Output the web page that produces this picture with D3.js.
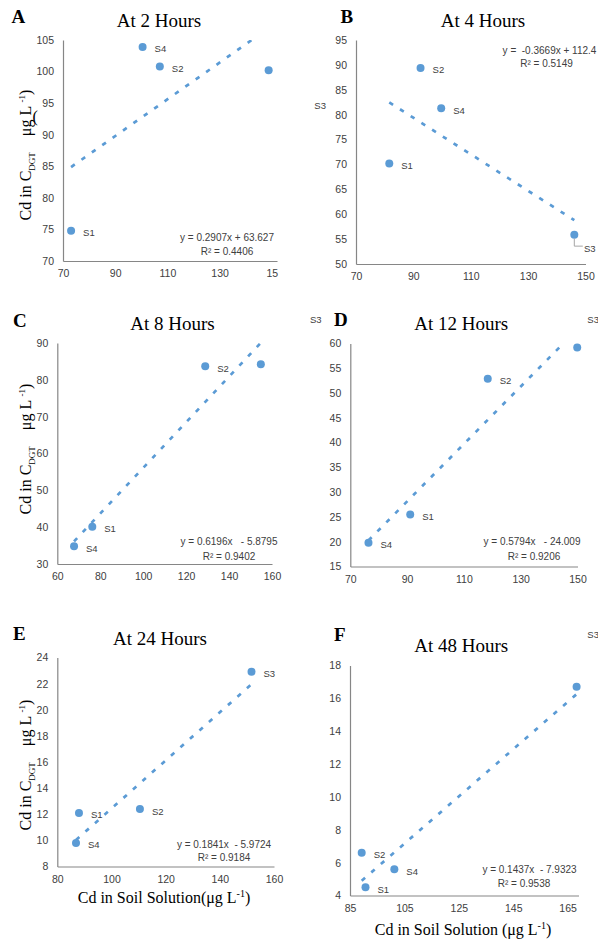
<!DOCTYPE html>
<meta charset="utf-8">
<style>
body { margin: 0; background: #fff; }
svg { display: block; font-family: "Liberation Sans", Arial, sans-serif; }
text { white-space: pre; }
.tick text { font-size: 10.5px; fill: #404040; }
.domain { stroke: #868686; stroke-width: 1.2; }
.ttl { font-family: "Liberation Serif", "Times New Roman", serif; font-size: 19px; fill: #000; }
.letter { font-family: "Liberation Serif", "Times New Roman", serif; font-size: 19px; font-weight: bold; fill: #000; }
.axlab { font-family: "Liberation Serif", "Times New Roman", serif; font-size: 16px; fill: #000; }
.eq { font-size: 10px; fill: #404040; }
.ptlab { font-size: 9.5px; fill: #404040; }
</style>
<svg width="598" height="940"></svg>
<script src="https://d3js.org/d3.v7.min.js"></script>
<script>

var panelLetters = ["A", "B", "C", "D", "E", "F"];
var panelTitles = ["At 2 Hours", "At 4 Hours", "At 8 Hours", "At 12 Hours", "At 24 Hours", "At 48 Hours"];
var sampleIds = ["S1", "S2", "S3", "S4"];

// Cd in soil solution (x), samples S1..S4
var soilCd = [
  [73.1, 107.1, 148.8, 100.5],
  [81.6, 92.5, 146.1, 99.7],
  [76.3, 128.9, 154.8, 67.8],
  [91.1, 118.4, 149.9, 76.4],
  [88.0, 110.5, 151.7, 86.9],
  [90.7, 89.3, 168.3, 101.3]
];
// Cd in C_DGT (y), samples S1..S4
var dgtCd = [
  [74.8, 100.8, 100.2, 103.9],
  [70.2, 89.4, 55.9, 81.3],
  [40.1, 83.7, 84.2, 34.8],
  [25.5, 52.9, 59.2, 19.8],
  [12.1, 12.4, 22.9, 9.8],
  [4.5, 6.6, 16.7, 5.6]
];

var slopes = [0.2907, -0.3669, 0.6196, 0.5794, 0.1841, 0.1437];
var intercepts = [63.627, 112.4, -5.8795, -24.009, -5.9724, -7.9323];
var eqLabels = ["y = 0.2907x + 63.627", "y =  -0.3669x + 112.4", "y = 0.6196x   - 5.8795",
                "y = 0.5794x   - 24.009", "y = 0.1841x  - 5.9724", "y = 0.1437x  - 7.9323"];
var r2Labels = ["R² = 0.4406", "R² = 0.5149", "R² = 0.9402", "R² = 0.9206", "R² = 0.9184", "R² = 0.9538"];

var xDomains = [[70, 152], [70, 150], [60, 160], [70, 150], [80, 160], [85, 169]];
var yDomains = [[70, 105], [50, 95], [30, 90], [15, 60], [8, 24], [4, 18]];
var xTicks = [
  [70, 90, 110, 130, 150],
  [70, 90, 110, 130, 150],
  [60, 80, 100, 120, 140, 160],
  [70, 90, 110, 130, 150],
  [80, 100, 120, 140, 160],
  [85, 105, 125, 145, 165]
];
var xTickLabels = [
  ["70", "90", "110", "130", "15"],
  ["70", "90", "110", "130", "150"],
  ["60", "80", "100", "120", "140", "160"],
  ["70", "90", "110", "130", "150"],
  ["80", "100", "120", "140", "160"],
  ["85", "105", "125", "145", "165"]
];
var yTicks = [
  [70, 75, 80, 85, 90, 95, 100, 105],
  [50, 55, 60, 65, 70, 75, 80, 85, 90, 95],
  [30, 40, 50, 60, 70, 80, 90],
  [15, 20, 25, 30, 35, 40, 45, 50, 55, 60],
  [8, 10, 12, 14, 16, 18, 20, 22, 24],
  [4, 6, 8, 10, 12, 14, 16, 18]
];

// layout of each panel (pixels)
var layout = [
  {x0: 63, x1: 277, y0: 261, y1: 40, title: [159, 27], letter: [11.5, 22.5], eq: [227, 240.5], r2: [227, 254.5], ylab: [31, 155]},
  {x0: 356, x1: 585.5, y0: 264, y1: 40, title: [483, 27], letter: [340.5, 22.5], eq: [549.5, 53.5], r2: [546.5, 67]},
  {x0: 57.3, x1: 272, y0: 564, y1: 343, title: [172.5, 330], letter: [13, 326.5], eq: [229, 545], r2: [229, 560], ylab: [31, 449]},
  {x0: 350.3, x1: 577.5, y0: 566.5, y1: 343.5, title: [461.3, 330], letter: [334, 326], eq: [532, 545], r2: [534, 560]},
  {x0: 57.3, x1: 274, y0: 866.5, y1: 657.5, title: [160, 645], letter: [13, 639.5], eq: [224, 847.5], r2: [224, 861], ylab: [31, 765],
   xlab: [164, 903, "Cd in Soil Solution(μg L"]},
  {x0: 350, x1: 578.5, y0: 895.5, y1: 665.5, title: [461.3, 651.5], letter: [334, 640.5], eq: [529.5, 872.5], r2: [524, 886.5],
   xlab: [463, 935, "Cd in Soil Solution (μg L"]}
];

// S3 labels that sit away from their points
var farLabels = {
  "0-2": [314.3, 109],
  "1-2": [584, 251.5],
  "2-2": [310, 323],
  "3-2": [587.3, 323],
  "5-2": [587.3, 638]
};

var blue = "#5B9BD5";
var svg = d3.select("svg");

panelLetters.forEach(function(letter, i) {
  var L = layout[i];
  var x = d3.scaleLinear().domain(xDomains[i]).range([L.x0, L.x1]);
  var y = d3.scaleLinear().domain(yDomains[i]).range([L.y0, L.y1]);
  var g = svg.append("g");

  g.append("clipPath").attr("id", "clip" + i)
    .append("rect")
      .attr("x", L.x0).attr("y", L.y1)
      .attr("width", L.x1 - L.x0).attr("height", L.y0 - L.y1);

  g.append("g")
      .attr("transform", "translate(0," + L.y0 + ")")
      .call(d3.axisBottom(x).tickValues(xTicks[i]).tickSize(0).tickPadding(9)
        .tickFormat(function(d, j) { return xTickLabels[i][j]; }));

  g.append("g")
      .attr("transform", "translate(" + L.x0 + ",0)")
      .call(d3.axisLeft(y).tickValues(yTicks[i]).tickSize(0).tickPadding(9));

  // trendline
  var xs = d3.extent(soilCd[i]);
  g.append("line")
      .attr("clip-path", "url(#clip" + i + ")")
      .attr("x1", x(xs[0])).attr("y1", y(slopes[i] * xs[0] + intercepts[i]))
      .attr("x2", x(xs[1])).attr("y2", y(slopes[i] * xs[1] + intercepts[i]))
      .attr("stroke", blue)
      .attr("stroke-width", 2.7)
      .attr("stroke-dasharray", "4.5 8.2");

  var pts = sampleIds.map(function(id, j) {
    return {id: id, key: i + "-" + j, x: soilCd[i][j], y: dgtCd[i][j]};
  });

  g.selectAll("circle")
    .data(pts)
    .enter().append("circle")
      .attr("cx", function(d) { return x(d.x); })
      .attr("cy", function(d) { return y(d.y); })
      .attr("r", 4)
      .attr("fill", blue);

  g.selectAll(".ptlab")
    .data(pts)
    .enter().append("text")
      .attr("class", "ptlab")
      .attr("x", function(d) { return farLabels[d.key] ? farLabels[d.key][0] : x(d.x) + 12; })
      .attr("y", function(d) { return farLabels[d.key] ? farLabels[d.key][1] : y(d.y) + 5.5; })
      .text(function(d) { return d.id; });

  // leader line for the S3 label in B
  if (i === 1) {
    var px = x(soilCd[1][2]), py = y(dgtCd[1][2]);
    g.append("path")
        .attr("d", "M" + px + "," + (py + 4) + "V" + (py + 11.5) + "H" + (px + 8.5))
        .attr("fill", "none")
        .attr("stroke", "#a6a6a6")
        .attr("stroke-width", 1);
  }

  g.append("text").attr("class", "eq")
      .attr("x", L.eq[0]).attr("y", L.eq[1])
      .attr("text-anchor", "middle")
      .text(eqLabels[i]);
  g.append("text").attr("class", "eq")
      .attr("x", L.r2[0]).attr("y", L.r2[1])
      .attr("text-anchor", "middle")
      .text(r2Labels[i]);

  g.append("text").attr("class", "ttl")
      .attr("x", L.title[0]).attr("y", L.title[1])
      .attr("text-anchor", "middle")
      .text(panelTitles[i]);

  g.append("text").attr("class", "letter")
      .attr("x", L.letter[0]).attr("y", L.letter[1])
      .text(letter);

  if (L.ylab) {
    var t = g.append("text").attr("class", "axlab")
        .attr("text-anchor", "middle")
        .attr("transform", "translate(" + L.ylab[0] + "," + L.ylab[1] + ") rotate(-90)");
    t.append("tspan").text("Cd in C");
    t.append("tspan").attr("dy", 4).attr("font-size", 9).text("DGT");
    t.append("tspan").attr("dy", -4).text("    μg L ");
    t.append("tspan").attr("dy", -6).attr("font-size", 9).text("-1");
    t.append("tspan").attr("dy", 6).text(")");
    if (i === 0) {
      g.append("text").attr("class", "axlab")
          .attr("x", 32.5).attr("y", 122)
          .text("(");
    }
  }

  if (L.xlab) {
    var tx = g.append("text").attr("class", "axlab")
        .attr("text-anchor", "middle")
        .attr("x", L.xlab[0]).attr("y", L.xlab[1]);
    tx.append("tspan").text(L.xlab[2]);
    tx.append("tspan").attr("dy", -6).attr("font-size", 10).text("-1");
    tx.append("tspan").attr("dy", 6).text(")");
  }
});

</script>
